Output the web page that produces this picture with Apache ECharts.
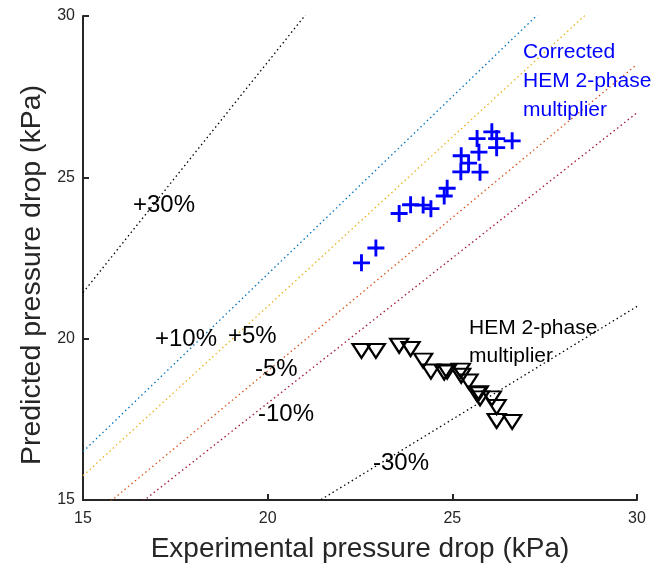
<!DOCTYPE html>
<html>
<head>
<meta charset="utf-8">
<script src="https://cdn.jsdelivr.net/npm/echarts@6/dist/echarts.min.js"></script>
<style>
  html, body { margin: 0; padding: 0; background: #fff; }
  #chart { width: 664px; height: 568px; }
</style>
</head>
<body>
<div id="chart"></div>
<script>
// ---- data ----
const expDrop = [22.54, 22.93, 23.56, 23.87, 24.21, 24.42, 24.78, 24.86, 25.23, 25.24, 25.44, 25.75, 25.72, 25.67, 26.07, 26.20, 26.20, 26.62];
const predCorrected = [22.35, 22.81, 23.88, 24.15, 24.14, 24.03, 24.42, 24.66, 25.17, 25.67, 25.44, 25.16, 25.78, 26.20, 26.41, 26.20, 25.92, 26.13];
const predHEM = [19.62, 19.62, 19.78, 19.68, 19.32, 18.98, 18.95, 18.98, 19.01, 18.85, 18.67, 18.15, 18.31, 18.28, 18.15, 17.88, 17.45, 17.42];

const bandNames = ['+30%', '+10%', '+5%', '-5%', '-10%', '-30%'];
const bandRatios = [1 / 0.7, 1.1, 1.05, 0.95, 0.9, 0.7];
const bandColors = ['#000000', '#0072BD', '#EDB120', '#D95319', '#A2142F', '#000000'];

const axisMin = 15, axisMax = 30, axisStep = 5;
const xTitle = 'Experimental pressure drop (kPa)';
const yTitle = 'Predicted pressure drop (kPa)';

// annotation text (pixel placement of labels)
const bandLabelPos = [[133, 205], [155, 339], [228, 336], [255, 369], [258, 414], [373, 463]];
const correctedNote = ['Corrected', 'HEM 2-phase', 'multiplier'];
const hemNote = ['HEM 2-phase', 'multiplier'];

const FONT = '"Liberation Sans", Arial, Helvetica, sans-serif';
const AX = '#262626';

const chart = echarts.init(document.getElementById('chart'), null, { renderer: 'canvas' });

const series = [];
bandRatios.forEach((r, i) => {
  series.push({
    type: 'line',
    name: bandNames[i],
    data: [[axisMin, axisMin * r], [axisMax, axisMax * r]],
    showSymbol: false,
    symbol: 'none',
    clip: true,
    silent: true,
    z: 1,
    lineStyle: { color: bandColors[i], width: 1.3, type: [1.5, 3] }
  });
});

const plusPath = 'path://M41.5,0H58.5V41.5H100V58.5H58.5V100H41.5V58.5H0V41.5H41.5Z';

series.push({
  type: 'scatter',
  name: 'Corrected HEM 2-phase multiplier',
  data: expDrop.map((x, i) => [x, predCorrected[i]]),
  symbol: plusPath,
  symbolSize: 17,
  itemStyle: { color: '#0000FF', opacity: 1 },
  z: 3
});
series.push({
  type: 'scatter',
  name: 'HEM 2-phase multiplier',
  data: expDrop.map((x, i) => [x, predHEM[i]]),
  symbol: 'triangle',
  symbolRotate: 180,
  symbolSize: [18, 14],
  itemStyle: { color: 'rgba(255,255,255,0)', borderColor: '#000000', borderWidth: 2.2, opacity: 1 },
  z: 3
});

const graphic = [];
bandNames.forEach((t, i) => {
  graphic.push({
    type: 'text', x: bandLabelPos[i][0], y: bandLabelPos[i][1], z: 10,
    style: { text: t, font: '24px ' + FONT, fill: '#000', textAlign: 'left', textVerticalAlign: 'middle' }
  });
});
correctedNote.forEach((t, i) => {
  graphic.push({
    type: 'text', x: 523, y: 52.5 + i * 29, z: 10,
    style: { text: t, font: '21px ' + FONT, fill: '#0000FF', textAlign: 'left', textVerticalAlign: 'middle' }
  });
});
hemNote.forEach((t, i) => {
  graphic.push({
    type: 'text', x: 469, y: 328.5 + i * 28, z: 10,
    style: { text: t, font: '21px ' + FONT, fill: '#000', textAlign: 'left', textVerticalAlign: 'middle' }
  });
});

chart.setOption({
  animation: false,
  backgroundColor: '#ffffff',
  grid: { left: 83, right: 27, top: 16, bottom: 62, containLabel: false },
  xAxis: {
    type: 'value', min: axisMin, max: axisMax, interval: axisStep,
    name: xTitle, nameLocation: 'middle', nameGap: 35,
    nameTextStyle: { fontSize: 28, color: AX, fontFamily: FONT },
    axisLine: { show: true, lineStyle: { color: AX, width: 2 } },
    axisTick: { show: true, inside: true, length: 6, lineStyle: { color: AX, width: 2 } },
    axisLabel: { fontSize: 16, color: AX, fontFamily: FONT, margin: 11 },
    splitLine: { show: false }
  },
  yAxis: {
    type: 'value', min: axisMin, max: axisMax, interval: axisStep,
    name: yTitle, nameLocation: 'middle', nameGap: 32,
    nameTextStyle: { fontSize: 28.5, color: AX, fontFamily: FONT, padding: [0, 34, 0, 0] },
    axisLine: { show: true, lineStyle: { color: AX, width: 2 } },
    axisTick: { show: true, inside: true, length: 6, lineStyle: { color: AX, width: 2 } },
    axisLabel: { fontSize: 16, color: AX, fontFamily: FONT, margin: 8 },
    splitLine: { show: false }
  },
  series: series,
  graphic: graphic
});
</script>
</body>
</html>
